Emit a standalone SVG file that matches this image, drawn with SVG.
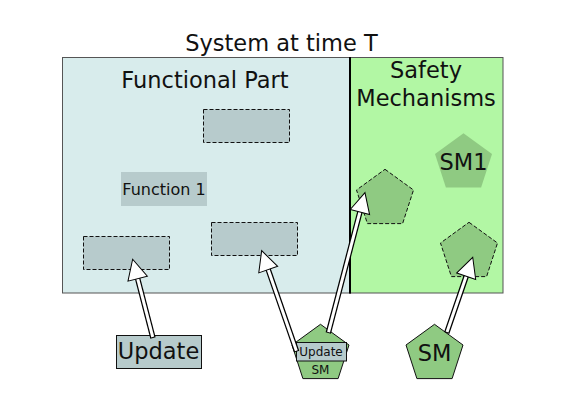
<svg xmlns="http://www.w3.org/2000/svg" width="574" height="402" viewBox="0 0 574 402">
<style>
text{font-family:"DejaVu Sans","Liberation Sans",sans-serif;fill:#111;text-anchor:middle}
.big{font-size:22.5px}
.mid{font-size:16px}
.small{font-size:12px}
.dbox{fill:#b7cbcc;stroke:#111;stroke-width:1;stroke-dasharray:4,2}
.dpent{fill:#8fca82;stroke:#111;stroke-width:1;stroke-dasharray:4,2}
.pent{fill:#8fca82;stroke:#111;stroke-width:1}
.ash{fill:none;stroke:#000;stroke-width:5.5}
.ain{fill:none;stroke:#fff;stroke-width:3;marker-end:url(#head)}
</style>
<defs>
<marker id="head" markerUnits="userSpaceOnUse" viewBox="-1 -12 23 24" markerWidth="23" markerHeight="24" refX="15" refY="0" orient="auto">
<path d="M0,-10 L20,0 L0,10 z" fill="#fff" stroke="#000" stroke-width="1"/>
</marker>
</defs>
<g id="title"><text class="big" x="281.5" y="51">System at time T</text></g>
<g id="functional-part">
<rect x="62.5" y="57.5" width="288" height="235.5" fill="#d8ecec" stroke="#555" stroke-width="1"/>
<text class="big" x="205" y="88">Functional Part</text>
</g>
<g id="safety-mechanisms">
<rect x="350" y="57.5" width="153" height="235.5" fill="#b2f7a4" stroke="#555" stroke-width="1"/>
<line x1="350" y1="57" x2="350" y2="293.5" stroke="#000" stroke-width="2"/>
<text class="big" x="426" y="78">Safety</text>
<text class="big" x="426" y="106">Mechanisms</text>
</g>
<g id="func-top"><rect class="dbox" x="203.5" y="109.5" width="86" height="33"/></g>
<g id="function-1">
<rect x="121" y="172" width="86" height="34" fill="#b7cbcc"/>
<text class="mid" x="164" y="195">Function 1</text>
</g>
<g id="func-bottom-left"><rect class="dbox" x="83.5" y="236.5" width="86" height="33"/></g>
<g id="func-bottom-mid"><rect class="dbox" x="211.5" y="222.5" width="86" height="33"/></g>
<g id="sm1">
<polygon points="463.5,133.3 492,154 481.1,187.6 445.9,187.6 435,154" fill="#8fca82"/>
<text class="big" x="463.5" y="169.5">SM1</text>
</g>
<g id="sm-slot-1"><polygon class="dpent" points="385,169.3 413.5,190 402.6,223.6 367.4,223.6 356.5,190"/></g>
<g id="sm-slot-2"><polygon class="dpent" points="469,222.3 497.5,243 486.6,276.6 451.4,276.6 440.5,243"/></g>
<g id="update">
<rect x="116.5" y="335.5" width="85" height="33" fill="#b7cbcc" stroke="#111" stroke-width="1"/>
<text class="big" x="158.5" y="359">Update</text>
</g>
<g id="update-sm">
<polygon class="pent" points="320.5,324.3 349,345 338.1,378.6 302.9,378.6 292,345"/>
<rect x="296.5" y="342.5" width="50" height="18.5" fill="#b7cbcc" stroke="#111" stroke-width="1"/>
<text class="small" x="321" y="355.7">Update</text>
<text class="small" x="320.5" y="374">SM</text>
</g>
<g id="sm">
<polygon class="pent" points="434.5,324.3 463,345 452.1,378.6 416.9,378.6 406,345"/>
<text class="big" x="434.5" y="361">SM</text>
</g>
<g id="connectors">
<line class="ash" x1="153" y1="338" x2="133.9" y2="264.1"/>
<line class="ain" x1="152.75" y1="337" x2="133.9" y2="264.1"/>
<line class="ash" x1="296.7" y1="351.7" x2="263.3" y2="255.4"/>
<line class="ain" x1="296.37" y1="350.75" x2="263.3" y2="255.4"/>
<line class="ash" x1="328.3" y1="333" x2="363.7" y2="197.5"/>
<line class="ain" x1="328.55" y1="332.03" x2="363.7" y2="197.5"/>
<line class="ash" x1="446.7" y1="333" x2="471.1" y2="262"/>
<line class="ain" x1="447.03" y1="332.05" x2="471.1" y2="262"/>
</g>
</svg>
